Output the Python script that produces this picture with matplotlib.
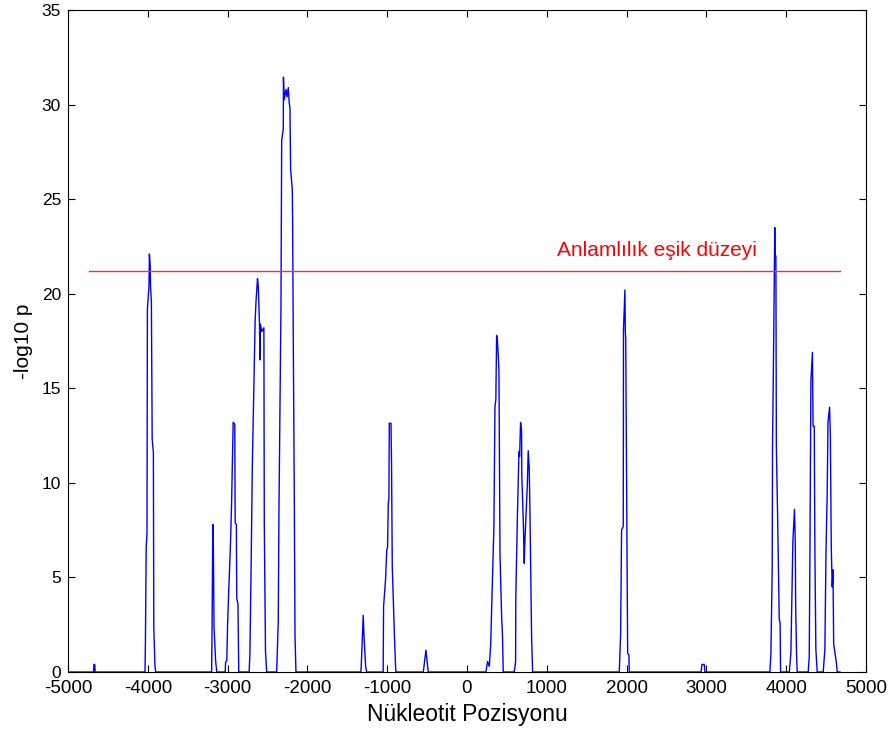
import numpy as np
import matplotlib
matplotlib.use('Agg')
import matplotlib.pyplot as plt

plt.rcParams['font.family'] = ['Liberation Sans', 'DejaVu Sans']
plt.rcParams['axes.unicode_minus'] = False

# nucleotide position vs -log10 p (breakpoints of the scan curve)
pos = [-5000, -4680, -4675, -4665, -4660,
       -4035, -4030, -4020, -4010, -4005, -3985, -3980, -3970, -3965, -3955, -3945, -3930, -3925, -3910, -3900,
       -3200, -3195, -3185, -3180, -3170, -3150, -3135,
       -3030, -3025, -3010, -3000, -2985, -2965, -2950, -2930, -2910, -2905, -2890, -2885, -2870, -2860,
       -2730, -2720, -2705, -2690, -2670, -2655, -2645, -2625, -2615, -2600, -2595, -2590, -2570, -2545, -2540, -2525, -2510,
       -2385, -2365, -2356, -2331, -2322, -2302, -2300, -2290, -2268, -2255, -2239, -2228, -2218, -2210, -2189, -2185, -2176, -2164, -2155, -2143,
       -1330, -1325, -1300, -1290, -1270, -1257,
       -1050, -1045, -1020, -1005, -995, -986, -978, -973, -952, -945, -936, -911, -895, -890,
       -547, -530, -514, -500, -485,
       238, 258, 280, 297, 315, 338, 351, 362, 372, 382, 393, 401, 414, 434, 445, 455,
       593, 610, 612, 631, 652, 660, 672, 685, 687, 706, 718, 727, 756, 768, 780, 789, 810, 823,
       1909, 1926, 1938, 1959, 1962, 1980, 1985, 1990, 2001, 2014, 2030, 2034,
       2935, 2945, 2975, 2982,
       3797, 3810, 3826, 3830, 3847, 3858, 3862, 3872, 3878, 3893, 3914, 3925, 3931,
       4040, 4050, 4060, 4070, 4085, 4105, 4115, 4120, 4131, 4139,
       4277, 4290, 4298, 4311, 4330, 4338, 4353, 4361, 4373, 4390,
       4465, 4486, 4500, 4515, 4525, 4545, 4555, 4566, 4578, 4588, 4596, 4630, 4641, 4674]
logp = [0, 0, 0.4, 0.4, 0,
        0, 1.5, 6.6, 7.3, 19.2, 20.4, 22.1, 21.5, 20.3, 19.6, 12.3, 11.6, 2.4, 0.3, 0,
        0, 2.1, 7.8, 7.6, 2.4, 0.6, 0,
        0, 0.5, 0.6, 2.5, 4.4, 6.6, 8.9, 13.2, 13.1, 7.9, 7.8, 3.9, 3.6, 0,
        0, 1.0, 5.6, 10.9, 15.3, 18.5, 19.5, 20.8, 20.4, 18.4, 16.5, 18.4, 18.0, 18.2, 7.9, 1.1, 0,
        0, 2.6, 8.6, 19.3, 28.1, 28.7, 31.45, 30.25, 30.8, 30.4, 30.9, 30.1, 29.8, 26.6, 25.5, 23.9, 17.2, 9.4, 1.9, 0,
        0, 0.3, 3.0, 1.9, 0.3, 0,
        0, 3.45, 4.9, 6.45, 6.6, 8.9, 9.2, 13.15, 13.15, 11.0, 5.6, 2.2, 0.3, 0,
        0, 0.6, 1.16, 0.6, 0,
        0, 0.55, 0.3, 1.4, 4.2, 7.7, 14.0, 14.4, 17.8, 17.5, 16.7, 15.9, 6.3, 3.0, 2.0, 0,
        0, 0.55, 3.8, 8.0, 11.65, 11.4, 13.2, 12.7, 10.5, 8.0, 5.75, 7.0, 9.8, 11.7, 10.8, 8.7, 1.9, 0,
        0, 2.0, 7.5, 7.7, 18.1, 20.2, 18.0, 17.6, 9.8, 1.0, 0.9, 0,
        0, 0.4, 0.4, 0,
        0, 1.0, 5.6, 11.9, 18.6, 23.5, 22.0, 22.0, 11.9, 8.4, 2.8, 2.6, 0,
        0, 0.5, 1.0, 3.4, 6.9, 8.6, 6.9, 3.5, 1.0, 0,
        0, 0.8, 5.75, 15.4, 16.9, 13.0, 13.0, 6.3, 1.2, 0,
        0, 1.2, 6.3, 9.45, 13.2, 14.0, 12.4, 6.6, 4.5, 5.4, 1.5, 0.5, 0, 0]

threshold = 21.2
thr_range = [-4737, 4674]
thr_label = 'Anlamlılık eşik düzeyi'

fig = plt.figure(figsize=(8.89, 7.31), dpi=100)
ax = fig.add_axes([0.0765, 0.0807, 0.8975, 0.9056])

ax.plot(pos, logp, color='#0000ff', linewidth=1.0)
ax.plot(thr_range, [threshold, threshold], color='#ff2a2a', linewidth=1.0)
ax.text(3640, threshold + 0.6, thr_label, color='#ff0000', fontsize=15,
        ha='right', va='bottom')

ax.set_xlim(-5000, 5000)
ax.set_ylim(0, 35)
ax.set_xticks(np.arange(-5000, 5001, 1000))
ax.set_yticks(np.arange(0, 36, 5))
ax.tick_params(direction='in', length=5, width=0.8, top=True, right=True)
ax.tick_params(axis='x', labelsize=13.5, pad=6)
ax.tick_params(axis='y', labelsize=12.5, pad=5)
for s in ax.spines.values():
    s.set_linewidth(0.8)

ax.set_xlabel('Nükleotit Pozisyonu', fontsize=16.5, labelpad=4)
ax.set_ylabel('-log10 p', fontsize=15, labelpad=6)

fig.savefig('out.png', dpi=100)
